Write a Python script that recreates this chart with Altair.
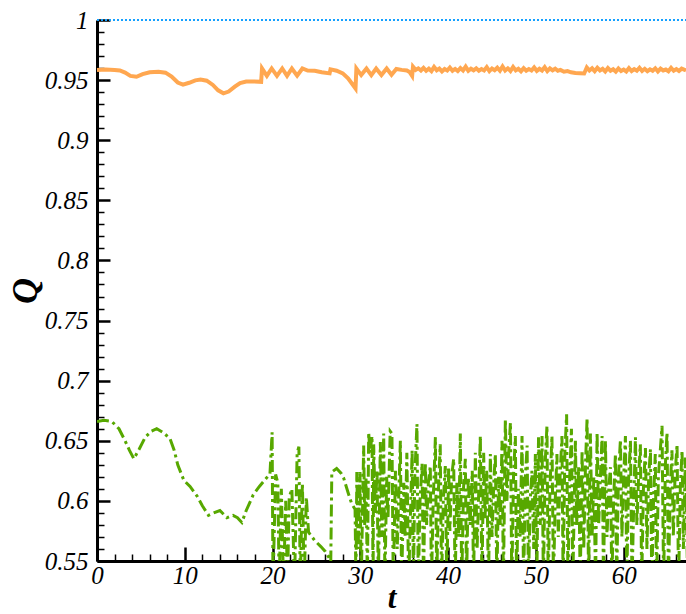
import altair as alt
import pandas as pd

# ---------------- data ----------------
blue_t = [0.0, 67.1]
blue_q = [1.0, 1.0]

orange_pts = [
    (0.0, 0.9585), (1.0, 0.9588), (2.0, 0.9585), (2.6, 0.958), (3.2, 0.9562), (3.8, 0.9535),
    (4.5, 0.9528), (5.2, 0.955), (6.0, 0.9565), (7.0, 0.957), (7.8, 0.9562), (8.5, 0.953),
    (9.2, 0.948), (9.8, 0.9462), (10.5, 0.9478), (11.2, 0.9498), (11.8, 0.9505), (12.5, 0.9495),
    (13.2, 0.946), (13.8, 0.9415), (14.4, 0.939), (15.0, 0.9405), (15.7, 0.9445), (16.3, 0.9475),
    (17.0, 0.9488), (17.8, 0.9489), (18.7, 0.9486),
    (18.8, 0.9597), (19.35, 0.9535), (19.9, 0.9597), (20.5, 0.9535), (21.1, 0.9597), (21.65, 0.9535),
    (22.2, 0.9597), (22.8, 0.9537), (23.4, 0.9597), (24.0, 0.958), (24.8, 0.9578), (25.6, 0.9565),
    (26.5, 0.9556), (26.6, 0.9589), (27.3, 0.9578), (28.0, 0.9556), (28.6, 0.9514), (29.1, 0.9465),
    (29.45, 0.943), (29.55, 0.9597), (30.1, 0.9542), (30.7, 0.9597), (31.25, 0.9542), (31.8, 0.9597),
    (32.4, 0.9542), (33.0, 0.9597), (33.55, 0.9545), (34.1, 0.9593), (34.7, 0.9585), (35.3, 0.958),
    (35.6, 0.9568), (35.9, 0.9535), (36.0, 0.9611),
    (36.3, 0.9585), (36.6, 0.9598), (36.9, 0.958), (37.2, 0.9602), (37.5, 0.9578), (37.8, 0.9595),
    (38.1, 0.9575), (38.4, 0.961), (38.7, 0.9582), (39.0, 0.9596), (39.3, 0.9572), (39.6, 0.9592),
    (39.9, 0.958), (40.2, 0.9605), (40.5, 0.9578), (40.8, 0.9593), (41.1, 0.9575), (41.4, 0.96),
    (41.7, 0.958), (42.0, 0.9612), (42.3, 0.9578), (42.6, 0.9595), (42.9, 0.9582), (43.2, 0.9598),
    (43.5, 0.9578), (43.8, 0.9592), (44.1, 0.958), (44.4, 0.9608), (44.7, 0.9575), (45.0, 0.9597),
    (45.3, 0.9583), (45.6, 0.9603), (45.9, 0.9578), (46.2, 0.9614), (46.5, 0.958), (46.8, 0.9598),
    (47.1, 0.9576), (47.4, 0.961), (47.7, 0.9581), (48.0, 0.9595), (48.3, 0.9574), (48.6, 0.96),
    (48.9, 0.9578), (49.2, 0.9592), (49.5, 0.958), (49.8, 0.9605), (50.1, 0.9577), (50.4, 0.9594),
    (50.7, 0.958), (51.0, 0.9608), (51.3, 0.9575), (51.6, 0.9598), (51.9, 0.9582), (52.2, 0.9595),
    (52.5, 0.9578), (52.8, 0.9585), (53.2, 0.957), (53.6, 0.9575), (54.0, 0.9565), (54.5, 0.956),
    (55.0, 0.9558), (55.5, 0.9555), (55.8, 0.9605), (56.1, 0.958), (56.4, 0.9598), (56.7, 0.9574),
    (57.0, 0.9602), (57.3, 0.958), (57.6, 0.9594), (57.9, 0.9572), (58.2, 0.96), (58.5, 0.9578),
    (58.8, 0.959), (59.1, 0.957), (59.4, 0.9597), (59.7, 0.9575), (60.0, 0.9588), (60.3, 0.9572),
    (60.6, 0.96), (60.9, 0.9576), (61.2, 0.9592), (61.5, 0.9578), (61.8, 0.9603), (62.1, 0.9576),
    (62.4, 0.9594), (62.7, 0.9574), (63.0, 0.959), (63.3, 0.9578), (63.6, 0.9598), (63.9, 0.9572),
    (64.2, 0.9595), (64.5, 0.958), (64.8, 0.9588), (65.1, 0.9574), (65.4, 0.9602), (65.7, 0.9578),
    (66.0, 0.9592), (66.3, 0.9576), (66.6, 0.9595), (67.1, 0.958),
]

green_pts = [
    (0.0, 0.666), (0.8, 0.667), (1.7, 0.666), (2.5, 0.660), (3.2, 0.650), (3.7, 0.642), (4.2, 0.635),
    (4.8, 0.643), (5.5, 0.653), (6.2, 0.658), (6.8, 0.660), (7.5, 0.657), (8.3, 0.652), (8.8, 0.642),
    (9.2, 0.630), (9.9, 0.617), (10.6, 0.612), (11.4, 0.604), (12.0, 0.596), (12.7, 0.588),
    (13.3, 0.590), (14.0, 0.592), (14.8, 0.586), (15.5, 0.588), (16.0, 0.586), (16.5, 0.582),
    (17.0, 0.592), (17.8, 0.605), (18.5, 0.612), (19.3, 0.619), (19.7, 0.622),
    (19.95, 0.657), (20.05, 0.53), (20.35, 0.622), (20.6, 0.615), (20.75, 0.53), (21.0, 0.61),
    (21.25, 0.53), (21.5, 0.60), (21.7, 0.53), (21.9, 0.603), (22.2, 0.61), (22.5, 0.53),
    (22.8, 0.64), (23.0, 0.645), (23.15, 0.53), (23.4, 0.615), (23.6, 0.53), (23.85, 0.603),
    (24.1, 0.574), (24.8, 0.567), (25.5, 0.562), (26.0, 0.558), (26.5, 0.552), (26.6, 0.53),
    (26.75, 0.624), (27.3, 0.627), (27.8, 0.623), (28.1, 0.619), (28.6, 0.607), (29.0, 0.598),
    (29.4, 0.593), (29.5, 0.53), (29.6, 0.624), (29.75, 0.56), (29.96, 0.624), (30.1, 0.53),
    (30.38, 0.646), (30.5, 0.58), (30.65, 0.62), (30.8, 0.53), (30.95, 0.657), (31.1, 0.64),
    (31.33, 0.654), (31.45, 0.53), (31.52, 0.647), (31.7, 0.59), (31.9, 0.625), (32.05, 0.53),
    (32.28, 0.649), (32.45, 0.57), (32.66, 0.656), (32.8, 0.53), (33.0, 0.62), (33.15, 0.585),
    (33.4, 0.658), (33.6, 0.656), (33.75, 0.53), (34.0, 0.625), (34.2, 0.56), (34.56, 0.65),
    (34.7, 0.53), (34.95, 0.615), (35.1, 0.57), (35.3, 0.64), (35.5, 0.53), (35.9, 0.642),
    (36.05, 0.53), (36.2, 0.62), (36.45, 0.664), (36.6, 0.53), (36.8, 0.60), (37.03, 0.631),
    (37.2, 0.53), (37.4, 0.632), (37.55, 0.58), (37.75, 0.615), (37.97, 0.629), (38.1, 0.53),
    (38.3, 0.60), (38.55, 0.653), (38.7, 0.53), (38.9, 0.61), (39.1, 0.647), (39.25, 0.53),
    (39.45, 0.60), (39.68, 0.629), (39.85, 0.53), (40.06, 0.628), (40.2, 0.575), (40.4, 0.62),
    (40.63, 0.635), (40.8, 0.53), (41.0, 0.615), (41.2, 0.57), (41.39, 0.656), (41.55, 0.53),
    (41.75, 0.61), (41.96, 0.635), (42.1, 0.53), (42.3, 0.62), (42.5, 0.58), (42.75, 0.625),
    (42.9, 0.53), (43.1, 0.64), (43.3, 0.56), (43.67, 0.654), (43.85, 0.53), (44.05, 0.64),
    (44.2, 0.585), (44.4, 0.625), (44.6, 0.53), (44.81, 0.639), (45.0, 0.57), (45.2, 0.615),
    (45.38, 0.639), (45.55, 0.53), (45.75, 0.62), (45.95, 0.58), (46.14, 0.65), (46.3, 0.53),
    (46.52, 0.668), (46.7, 0.60), (46.9, 0.64), (47.1, 0.665), (47.25, 0.53), (47.45, 0.62),
    (47.66, 0.654), (47.8, 0.53), (48.0, 0.61), (48.2, 0.57), (48.42, 0.654), (48.6, 0.53),
    (48.8, 0.62), (49.0, 0.646), (49.15, 0.53), (49.35, 0.60), (49.55, 0.625), (49.75, 0.56),
    (49.94, 0.639), (50.1, 0.53), (50.3, 0.653), (50.5, 0.58), (50.7, 0.654), (50.85, 0.53),
    (51.05, 0.63), (51.26, 0.6625), (51.4, 0.53), (51.6, 0.61), (51.83, 0.654), (52.0, 0.53),
    (52.2, 0.60), (52.4, 0.639), (52.55, 0.57), (52.75, 0.62), (52.97, 0.654), (53.1, 0.53),
    (53.3, 0.64), (53.5, 0.672), (53.65, 0.53), (53.85, 0.62), (54.05, 0.66), (54.2, 0.53),
    (54.5, 0.65), (54.65, 0.58), (54.88, 0.629), (55.05, 0.53), (55.26, 0.642), (55.45, 0.56),
    (55.65, 0.63), (55.83, 0.669), (56.0, 0.53), (56.21, 0.656), (56.4, 0.57), (56.6, 0.62),
    (56.8, 0.53), (56.97, 0.657), (57.15, 0.58), (57.35, 0.62), (57.54, 0.654), (57.7, 0.53),
    (57.92, 0.65), (58.1, 0.57), (58.3, 0.61), (58.49, 0.628), (58.65, 0.53), (58.85, 0.60),
    (59.06, 0.639), (59.2, 0.53), (59.4, 0.62), (59.63, 0.651), (59.8, 0.57), (60.0, 0.62),
    (60.2, 0.654), (60.35, 0.53), (60.55, 0.615), (60.77, 0.65), (60.95, 0.53), (61.15, 0.60),
    (61.34, 0.653), (61.5, 0.58), (61.7, 0.62), (61.9, 0.647), (62.05, 0.53), (62.25, 0.61),
    (62.48, 0.644), (62.65, 0.56), (62.85, 0.62), (63.05, 0.643), (63.2, 0.53), (63.4, 0.60),
    (63.6, 0.639), (63.75, 0.53), (63.95, 0.62), (64.15, 0.64), (64.37, 0.6625), (64.55, 0.53),
    (64.75, 0.63), (64.94, 0.657), (65.1, 0.53), (65.3, 0.61), (65.5, 0.642), (65.65, 0.57),
    (65.85, 0.62), (66.08, 0.647), (66.25, 0.53), (66.45, 0.61), (66.65, 0.642), (66.8, 0.56),
    (67.03, 0.636), (67.3, 0.53),
]

x_major = [0, 10, 20, 30, 40, 50, 60]
x_minor = [v for v in range(2, 68, 2) if v % 10 != 0]
y_major = [0.55, 0.6, 0.65, 0.7, 0.75, 0.8, 0.85, 0.9, 0.95, 1.0]
y_minor = [round(0.55 + i * 0.01, 2) for i in range(1, 45) if i % 5 != 0]

X_DOMAIN = [0, 67.1]
Y_DOMAIN = [0.55, 1.0]

blue_df = pd.DataFrame({"t": blue_t, "Q": blue_q})
orange_df = pd.DataFrame(orange_pts, columns=["t", "Q"])
green_df = pd.DataFrame(green_pts, columns=["t", "Q"])

FONT = "Times New Roman, Liberation Serif, serif"
xs = alt.Scale(domain=X_DOMAIN, nice=False, zero=False)
ys = alt.Scale(domain=Y_DOMAIN, nice=False, zero=False)

# axis with domain line and title only
ax_dom_x = alt.Axis(orient="bottom", labels=False, ticks=False, grid=False, domain=True,
                    domainColor="black", domainWidth=3, title="t", titleFont=FONT,
                    titleFontSize=31, titleFontStyle="italic", titleFontWeight="bold",
                    titleColor="black", titlePadding=22)
ax_dom_y = alt.Axis(orient="left", labels=False, ticks=False, grid=False, domain=True,
                    domainColor="black", domainWidth=3, title="Q", titleFont=FONT,
                    titleFontSize=36, titleFontStyle="italic", titleFontWeight="bold",
                    titleColor="black", titlePadding=53)
# major ticks (inward, via negative offset) with labels
ax_maj_x = alt.Axis(orient="bottom", values=x_major, offset=-14, tickSize=14, tickWidth=2.5,
                    tickColor="black", domain=False, grid=False, labelFont=FONT,
                    labelFontSize=25, labelFontStyle="italic", labelColor="black",
                    labelPadding=2, labelOverlap=False, labelFlush=False, format="d", title="")
ax_maj_y = alt.Axis(orient="left", values=y_major, offset=-13, tickSize=13, tickWidth=2.5,
                    tickColor="black", domain=False, grid=False, labelFont=FONT,
                    labelFontSize=25, labelFontStyle="italic", labelColor="black",
                    labelPadding=9, labelOverlap=False, labelFlush=False, format="~g", title="")
# minor ticks
ax_min_x = alt.Axis(orient="bottom", values=x_minor, offset=-7, tickSize=7, tickWidth=1.5,
                    tickColor="black", domain=False, grid=False, labels=False, title="")
ax_min_y = alt.Axis(orient="left", values=y_minor, offset=-7, tickSize=7, tickWidth=1.5,
                    tickColor="black", domain=False, grid=False, labels=False, title="")

blue = alt.Chart(blue_df).mark_line(color="#14A0FF", strokeWidth=2, strokeDash=[2, 2]).encode(
    x=alt.X("t:Q", scale=xs, axis=ax_dom_x),
    y=alt.Y("Q:Q", scale=ys, axis=ax_dom_y),
)
orange = alt.Chart(orange_df).mark_line(color="#FFA750", strokeWidth=4).encode(
    x=alt.X("t:Q", scale=xs, axis=ax_maj_x),
    y=alt.Y("Q:Q", scale=ys, axis=ax_maj_y),
    order="t:Q",
)
green = alt.Chart(green_df).mark_line(color="#57A800", strokeWidth=3, strokeDash=[12, 4, 3, 4],
                                       clip=True).encode(
    x=alt.X("t:Q", scale=xs, axis=ax_min_x),
    y=alt.Y("Q:Q", scale=ys, axis=ax_min_y),
    order="t:Q",
)

chart = alt.layer(green, orange, blue).resolve_axis(
    x="independent", y="independent"
).properties(
    width=589, height=541,
    autosize=alt.AutoSizeParams(type="none"),
    padding={"left": 97, "top": 20, "right": 0, "bottom": 53},
    background="white",
).configure_view(stroke=None)

chart.save("out.html", embed_options={"renderer": "svg", "actions": False})
